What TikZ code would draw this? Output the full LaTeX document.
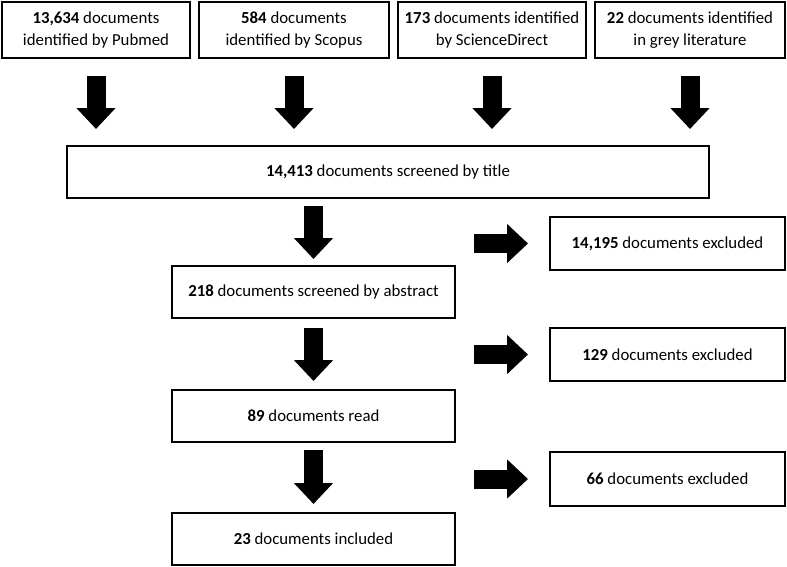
\documentclass[tikz,border=0pt]{standalone}
\usepackage{fontspec}
\setmainfont{Carlito}
\usetikzlibrary{arrows.meta,positioning}

\tikzset{fat/.style={line width=19pt,-{Triangle[width=38pt,length=21pt]}}}

\begin{document}
\begin{tikzpicture}[x=1pt, y=-1pt, font=\fontsize{16.8}{21.5}\selectfont]
   \useasboundingbox (0,0) rectangle (787,566);
   \begin{scope}[every node/.style={rectangle,draw=black,line width=2pt,align=center,inner sep=2pt,minimum height=52pt}]
    \node (pubmed) [minimum width=188pt, minimum height=56pt] at (96,30) {\textbf{13,634} documents\\identified by Pubmed};
    \node (scopus) [minimum width=190pt, minimum height=56pt] at (294,30) {\textbf{584} documents\\identified by Scopus};
    \node (scidir) [minimum width=188pt, minimum height=56pt] at (492,30) {\textbf{173} documents identified\\by ScienceDirect};
    \node (grey) [minimum width=190pt, minimum height=56pt] at (690,30) {\textbf{22} documents identified\\in grey literature};
    \node (title) [minimum width=642pt] at (388,172) {\textbf{14,413} documents screened by title};
    \node (abstract) [minimum width=283pt] at (313.5,292) {\textbf{218} documents screened by abstract};
    \node (read) [minimum width=283pt] at (313.5,416) {\textbf{89} documents read};
    \node (incl) [minimum width=283pt] at (313.5,539) {\textbf{23} documents included};
    \node (ex1) [minimum width=235pt, minimum height=53pt] at (667.5,243.5) {\textbf{14,195} documents excluded};
    \node (ex2) [minimum width=235pt, minimum height=53pt] at (667.5,354.5) {\textbf{129} documents excluded};
    \node (ex3) [minimum width=235pt, minimum height=54pt] at (667.5,479) {\textbf{66} documents excluded};
   \end{scope}
   \begin{scope}[fat]
    \draw [shorten <=17pt, shorten >=16pt] (pubmed) -- (pubmed |- title.north);
    \draw [shorten <=17pt, shorten >=16pt] (scopus) -- (scopus |- title.north);
    \draw [shorten <=17pt, shorten >=16pt] (scidir) -- (scidir |- title.north);
    \draw [shorten <=17pt, shorten >=16pt] (grey) -- (grey |- title.north);
    \draw [shorten <=7pt, shorten >=6pt] (title.south -| abstract) -- (abstract);
    \draw [shorten <=9pt, shorten >=8pt] (abstract) -- (read);
    \draw [shorten <=7pt, shorten >=8pt] (read) -- (incl);
    \draw [shorten <=18pt, shorten >=21pt] (abstract.east |- ex1) -- (ex1);
    \draw [shorten <=18pt, shorten >=21pt] (abstract.east |- ex2) -- (ex2);
    \draw [shorten <=18pt, shorten >=21pt] (abstract.east |- ex3) -- (ex3);
   \end{scope}
\end{tikzpicture}
\end{document}
